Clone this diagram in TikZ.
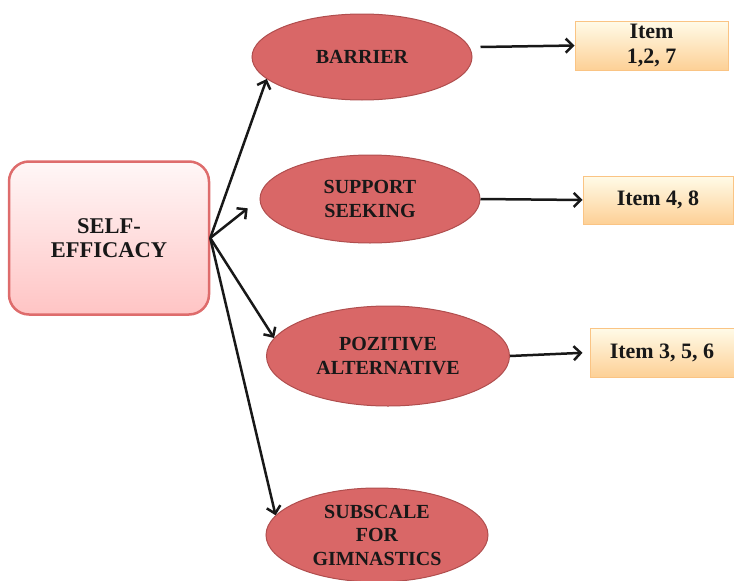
\documentclass[tikz,border=0pt]{standalone}
\usepackage{fontspec}
\setmainfont{Liberation Serif}
\usepackage{tikz}
\usepackage{xcolor}
\usetikzlibrary{
    arrows.meta,
    shapes,
    calc,
    positioning
}
\definecolor{ovalfill}{RGB}{217,103,103}
\definecolor{ovaldraw}{RGB}{176,78,78}
\definecolor{rootdraw}{RGB}{222,108,108}
\definecolor{roottop}{RGB}{255,247,247}
\definecolor{rootbottom}{RGB}{255,196,196}
\definecolor{itemdraw}{RGB}{250,196,132}
\definecolor{itemtop}{RGB}{255,251,232}
\definecolor{itembottom}{RGB}{253,208,150}
\definecolor{ink}{RGB}{24,24,24}
\tikzset{
    oval/.style={ellipse, draw=ovaldraw, fill=ovalfill, line width=1pt, inner sep=0pt,
        text=ink, align=center, font=\fontsize{20}{23.5}\selectfont\bfseries},
    root/.style={rectangle, rounded corners=20pt, draw=rootdraw, line width=2.5pt,
        top color=roottop, bottom color=rootbottom, minimum width=200pt, minimum height=153pt,
        text=ink, align=center, font=\fontsize{22.5}{24}\selectfont\bfseries},
    itembox/.style={rectangle, draw=itemdraw, line width=1pt, top color=itemtop,
        bottom color=itembottom, inner sep=0pt, text=ink, align=center,
        font=\fontsize{22}{25}\selectfont\bfseries},
    link/.style={-{Straight Barb[length=7pt, width=14pt, line width=2.5pt]},
        line width=2.5pt, draw=ink}
}

\begin{document}
\begin{tikzpicture}[x=1pt, y=-1pt]
                        \useasboundingbox (0, 0) rectangle (734, 581);
                        \node[root] (se) at (109, 238) {SELF-\\EFFICACY};
                        \node[oval, minimum width=220pt, minimum height=86pt] (bar) at (362, 57) {BARRIER};
                        \node[oval, minimum width=220pt, minimum height=88pt] (sup) at (370, 199) {SUPPORT\\SEEKING};
                        \node[oval, minimum width=243pt, minimum height=100pt] (pos) at (388, 356) {POZITIVE\\ALTERNATIVE};
                        \node[oval, minimum width=222pt, minimum height=94pt] (sub) at (377, 535) {SUBSCALE\\FOR\\GIMNASTICS};
                        \node[itembox, minimum width=153pt, minimum height=49pt] (i127) at (651.5, 45.5) {Item\\1,2, 7};
                        \node[itembox, minimum width=150pt, minimum height=48pt] (i48) at (658, 200) {Item 4, 8};
                        \node[itembox, minimum width=144pt, minimum height=49pt] (i356) at (662, 352.5) {Item 3, 5, 6};
                        \draw[link] (se.east) -- (bar.193);
                        \draw[link, shorten >=15pt] (se.east) -- (sup.west);
                        \draw[link] (se.east) -- (pos.171);
                        \draw[link] (se.east) -- (sub.169);
                        \draw[link] ([shift={(8,-10)}]bar.east) -- (i127.west);
                        \draw[link] (sup.east) -- (i48.west);
                        \draw[link, shorten >=7pt] (pos.east) -- (i356.west);
                    \end{tikzpicture}
\end{document}
